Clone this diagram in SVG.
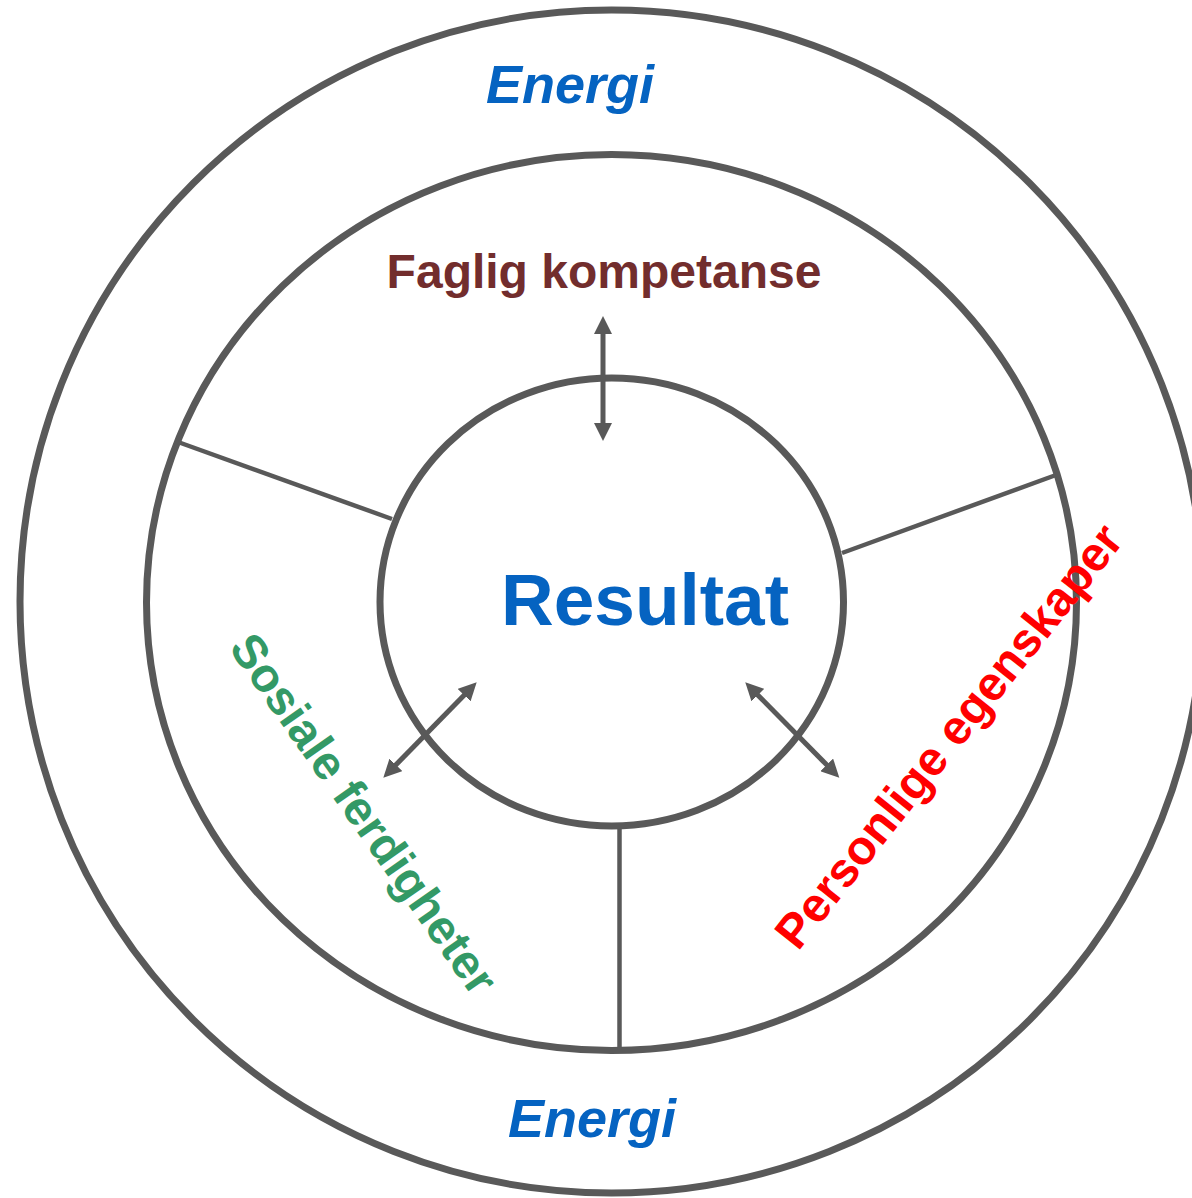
<svg xmlns="http://www.w3.org/2000/svg" width="1192" height="1198" viewBox="0 0 1192 1198">
  <style>
    .ring { fill: none; stroke: #595959; stroke-width: 7; }
    .div { stroke: #595959; stroke-width: 4.5; fill: none; }
    .arr { stroke: #595959; stroke-width: 5; fill: none; marker-start: url(#ah); marker-end: url(#ah); }
    text { font-family: "Liberation Sans", Arial, sans-serif; font-weight: bold; }
    .energi { fill: #0563C1; font-style: italic; font-size: 54px; text-anchor: middle; }
  </style>
  <defs>
    <marker id="ah" markerUnits="userSpaceOnUse" markerWidth="18" markerHeight="18" refX="1" refY="9" orient="auto-start-reverse" viewBox="0 0 18 18">
      <path d="M0,0 L18,9 L0,18 z" fill="#595959"/>
    </marker>
  </defs>
  <rect width="1192" height="1198" fill="#ffffff"/>

  <g id="outer-ring">
    <circle class="ring" cx="611.5" cy="601.5" r="591.5"/>
    <text class="energi" x="570" y="103">Energi</text>
    <text class="energi" x="592" y="1137">Energi</text>
  </g>

  <g id="middle-ring">
    <ellipse class="ring" cx="611.5" cy="602.5" rx="465" ry="448"/>
  </g>

  <g id="dividers">
    <line class="div" x1="178" y1="442" x2="392" y2="519"/>
    <line class="div" x1="842" y1="553" x2="1056" y2="475"/>
    <line class="div" x1="619.5" y1="828" x2="619.5" y2="1050"/>
  </g>

  <g id="faglig-kompetanse">
    <text x="604" y="288" font-size="48" fill="#722D2D" text-anchor="middle">Faglig kompetanse</text>
  </g>

  <g id="sosiale-ferdigheter">
    <text x="0" y="0" font-size="47.5" fill="#339966" transform="translate(228,648) rotate(55)">Sosiale ferdigheter</text>
  </g>

  <g id="personlige-egenskaper">
    <text x="0" y="0" font-size="48" fill="#FF0000" transform="translate(798,952) rotate(-51.5)">Personlige egenskaper</text>
  </g>

  <g id="resultat">
    <ellipse class="ring" cx="611.75" cy="602" rx="231.75" ry="224"/>
    <text x="645" y="625" font-size="73" fill="#0563C1" text-anchor="middle">Resultat</text>
  </g>

  <g id="connectors">
    <line class="arr" x1="603" y1="333" x2="603" y2="424"/>
    <line class="arr" x1="395.2" y1="765.6" x2="464.8" y2="694.4"/>
    <line class="arr" x1="757.2" y1="694.4" x2="827.4" y2="765.6"/>
  </g>
</svg>
